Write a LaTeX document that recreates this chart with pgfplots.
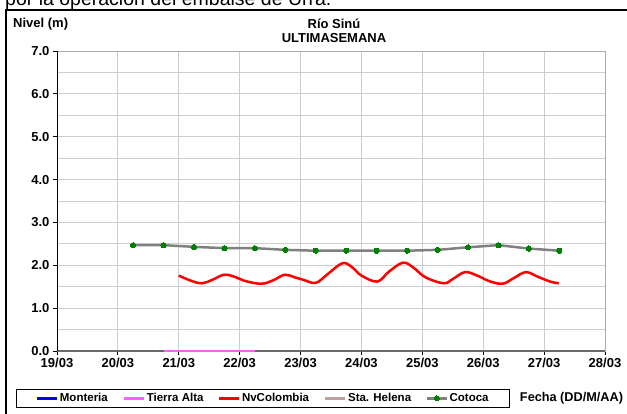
\documentclass[border=0pt]{standalone}
\usepackage{fontspec}
\setmainfont{Liberation Sans}
\usepackage{pgfplots}
\pgfplotsset{compat=1.18}
\definecolor{gridc}{RGB}{205,205,205}
\definecolor{tierra}{RGB}{255,95,255}
\definecolor{helena}{RGB}{190,160,160}
\definecolor{cotoca}{RGB}{128,128,128}
\definecolor{cotocam}{RGB}{0,128,0}
\definecolor{axg}{RGB}{105,105,105}
\begin{document}
\begin{tikzpicture}
\path[use as bounding box] (0pt,0pt) rectangle (627pt,413pt);
\begin{scope}
\clip (0pt,0pt) rectangle (627pt,413pt);
\node[anchor=base west, font=\fontsize{19.5}{22}\selectfont, inner sep=0pt] at (5pt,407pt) {por la operación del embalse de Urrá.};
\draw[line width=2pt] (6pt,-5pt) -- (6pt,403pt) -- (640pt,403pt);
\end{scope}
\node[anchor=west, font=\bfseries\fontsize{13}{15}\selectfont, inner sep=0pt] at (13pt,389pt) {Nivel (m)};
\node[font=\bfseries\fontsize{13}{15}\selectfont, inner sep=0pt] at (334pt,389pt) {Río Sinú};
\node[font=\bfseries\fontsize{13}{15}\selectfont, inner sep=0pt] at (334pt,375pt) {ULTIMASEMANA};
\node[font=\bfseries\fontsize{12.7}{15}\selectfont, inner sep=0pt] at (571.5pt,15pt) {Fecha (DD/M/AA)};
\begin{scope}[shift={(57pt,62pt)}]
\begin{axis}[
  name=ax,
  at={(0pt,0pt)}, anchor=south west,
  scale only axis, width=548pt, height=300pt,
  xmin=0, xmax=9, ymin=0, ymax=7,
  clip=false,
  xtick={0,1,...,9},
  xticklabels={19/03,20/03,21/03,22/03,23/03,24/03,25/03,26/03,27/03,28/03},
  ytick={0,1,...,7},
  minor ytick={0.5,1.5,...,6.5},
  minor tick length=0pt,
  major tick length=4pt,
  tick align=outside,
  xtick pos=bottom, ytick pos=left,
  xmajorgrids, ymajorgrids, yminorgrids,
  major grid style={gridc, line width=0.9pt},
  minor grid style={gridc, line width=0.9pt},
  axis line style={draw=gray!65, line width=0.9pt},
  tick style={black, line width=0.8pt},
  /pgf/number format/assume math mode=true,
  yticklabel style={/pgf/number format/.cd, fixed, fixed zerofill, precision=1},
  tick label style={font=\bfseries\fontsize{13}{15}\selectfont},
  legend columns=5,
  legend style={at={(-0.0748,-0.1267)}, anchor=north west, draw=black, line width=0.8pt,
    font=\bfseries\fontsize{11.5}{13}\selectfont, inner xsep=19pt, inner ysep=2.5pt,
    nodes={inner sep=1.5pt},
    /tikz/every even column/.append style={column sep=13pt}},
  legend image code/.code={\draw[mark repeat=2,mark phase=2,#1] plot coordinates {(0pt,0pt) (10pt,0pt) (20pt,0pt)};},
]
\draw[axg, line width=2pt] (rel axis cs:0,0) -- (rel axis cs:1,0);
\addlegendimage{blue, line width=3pt}
\addlegendentry{Monteria}
\addplot[tierra, line width=2pt, forget plot] coordinates {(1.75,0) (3.25,0)};
\addlegendimage{tierra, line width=3pt}
\addlegendentry{Tierra Alta}
\addplot[red, line width=2.5pt, smooth, tension=0.6] coordinates {
(2.0,1.76) (2.2,1.64) (2.38,1.58) (2.55,1.66) (2.74,1.78) (2.9,1.74) (3.1,1.63) (3.36,1.57)
(3.55,1.65) (3.74,1.78) (3.9,1.72) (4.05,1.66) (4.25,1.59) (4.45,1.80) (4.69,2.05) (4.85,1.95)
(5.0,1.76) (5.26,1.62) (5.45,1.85) (5.68,2.06) (5.85,1.95) (6.05,1.72) (6.35,1.58) (6.5,1.68)
(6.7,1.84) (6.9,1.76) (7.1,1.63) (7.32,1.57) (7.5,1.70) (7.70,1.84) (7.9,1.73) (8.1,1.62) (8.24,1.58)};
\addlegendentry{NvColombia}
\addlegendimage{helena, line width=3pt}
\addlegendentry{Sta. Helena}
\addplot[cotoca, line width=2.5pt, mark=*, mark size=2.6pt, mark options={draw=cotocam, fill=cotocam, line width=0pt}] coordinates {
(1.25,2.47) (1.75,2.47) (2.25,2.43) (2.75,2.40) (3.25,2.40) (3.75,2.36) (4.25,2.34) (4.75,2.34)
(5.25,2.34) (5.75,2.34) (6.25,2.36) (6.75,2.42) (7.25,2.47) (7.75,2.39) (8.25,2.34)};
\addlegendentry{Cotoca}
\end{axis}
\end{scope}
\draw[black, line width=1pt] (ax.south west) -- (ax.north west);
\end{tikzpicture}
\end{document}
